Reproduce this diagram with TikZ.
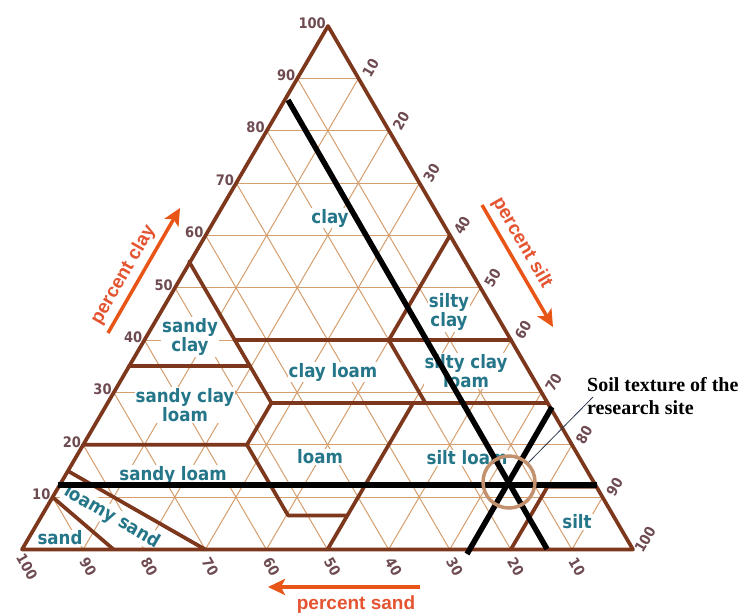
\documentclass[tikz,border=0pt]{standalone}
\usepackage{fontspec}
\usetikzlibrary{arrows.meta}
\newfontfamily\regfont{DejaVu Sans Condensed}
\newfontfamily\axfont{Liberation Sans}
\newfontfamily\annfont{Liberation Serif}
\definecolor{brd}{RGB}{125,55,28}
\definecolor{gridc}{RGB}{212,158,110}
\definecolor{regc}{RGB}{38,118,138}
\definecolor{tickc}{RGB}{110,75,80}
\definecolor{axc}{RGB}{228,84,48}
\definecolor{arrc}{RGB}{232,85,22}
\definecolor{circc}{RGB}{195,145,110}
\definecolor{leadc}{RGB}{40,55,75}
\tikzset{
 tern/.style={shift={(633,549.5)}, x={(-6.11pt,0pt)}, y={(-3.05pt,5.235pt)}},
 gridln/.style={draw=gridc, line width=1pt},
 bnd/.style={draw=brd, line width=3.7pt, line cap=round, line join=round},
 reg/.style={text=regc, font=\regfont\bfseries\fontsize{18.5}{19.5}\selectfont, fill=white, inner sep=1pt, align=center},
 tlab/.style={text=tickc, font=\regfont\bfseries\fontsize{14.5}{16}\selectfont, inner sep=0.5pt},
 axl/.style={text=axc, font=\axfont\bfseries\fontsize{19}{21}\selectfont, inner sep=0},
 axarrow/.style={draw=arrc, line width=3.5pt, -{Stealth[length=17pt,width=16pt,inset=4pt]}},
 blk/.style={draw=black, line width=5.5pt},
 ann/.style={font=\annfont\bfseries\fontsize{20}{22}\selectfont, inner sep=0},
 leader/.style={draw=leadc, line width=0.8pt}
}
\begin{document}
\begin{tikzpicture}[x=1pt,y=-1pt]
\useasboundingbox (0,0) rectangle (738,614);
\fill[white] (0,0) rectangle (738,614);

% grid
\begin{scope}[tern]
\foreach \k in {10,20,...,90} {
  \draw[gridln] (100-\k,\k) -- (0,\k);
  \draw[gridln] (\k,0) -- (\k,100-\k);
  \draw[gridln] (100-\k,0) -- (0,100-\k);
}
% tick labels
\foreach \k in {10,20,...,100} {
  \node[tlab, anchor=east, xshift=-1.5pt, yshift=3pt] (cl\k) at (100-\k,\k) {\k};
  \node[tlab, xshift=5pt, yshift=-17pt, rotate=-60] (sa\k) at (\k,0) {\k};
  \node[tlab, xshift=12pt, yshift=10pt, rotate=60] (si\k) at (0,100-\k) {\k};
}
\end{scope}

% region labels
\node[reg] (lclay) at (330,218) {clay};
\node[reg] (lsiltyclay) at (449,312) {silty\\clay};
\node[reg] (lsicl) at (466,371) {silty clay\\loam};
\node[reg] (lsandyclay) at (190,337) {sandy\\clay};
\node[reg] (lscl) at (185,405) {sandy clay\\loam};
\node[reg] (lcl) at (333,372) {clay loam};
\node[reg] (lloam) at (320,457) {loam};
\node[reg] (lsiltloam) at (467,458) {silt loam};
\node[reg] (lsandyloam) at (173,475) {sandy loam};
\node[reg, rotate=-30] (lloamysand) at (112,517) {loamy sand};
\node[reg] (lsand) at (60,538) {sand};
\node[reg] (lsilt) at (577,522) {silt};

% boundaries
\begin{scope}[tern]
\draw[bnd] (85,0) -- (90,10);
\draw[bnd] (70,0) -- (85,15);
\draw[bnd] (80,20) -- (53.2,20) -- (53.2,6.5) -- (43.5,6.5);
\draw[bnd] (50,0) -- (22,28);
\draw[bnd] (20,0) -- (8,12) -- (0,12);
\draw[bnd] (53.2,20) -- (45.2,28) -- (45.2,55);
\draw[bnd] (45.2,28) -- (0,28);
\draw[bnd] (65,35) -- (45.2,35);
\draw[bnd] (45.2,40) -- (0,40);
\draw[bnd] (20,28) -- (20,40) -- (0,60);
\draw[bnd] (100,0) -- (0,0) -- (0,100) -- cycle;
\end{scope}

% measured lines
\coordinate (h1) at (58,485);
\coordinate (h2) at (597,485);
\coordinate (d1a) at (288,100);
\coordinate (d1b) at (547,549);
\coordinate (d2a) at (467,554);
\coordinate (d2b) at (552,407);
\draw[blk] (h1) -- (h2);
\draw[blk] (d1a) -- (d1b);
\draw[blk] (d2a) -- (d2b);

\node[circle, draw=circc, line width=3.5pt, minimum size=52pt, inner sep=0] (site) at (509,482) {};

% annotation
\node[ann, anchor=base west] (ann1) at (587,391.5) {Soil texture of the};
\node[ann, anchor=base west] (ann2) at (587,414) {research site};
\coordinate (lead) at (593,397);
\draw[leader] (lead) -- (site.45);

% axis arrows and labels
\coordinate (ca1) at (108,333);
\coordinate (ca2) at (180,208);
\draw[axarrow] (ca1) -- (ca2);
\node[axl, rotate=60] (pclay) at (123.5,275) {percent clay};
\coordinate (sa1) at (482,205);
\coordinate (sa2) at (553,327);
\draw[axarrow] (sa1) -- (sa2);
\node[axl, rotate=-60] (psilt) at (522,243) {percent silt};
\coordinate (na1) at (420,587);
\coordinate (na2) at (268,587);
\draw[axarrow] (na1) -- (na2);
\node[axl] (psand) at (356,605) {percent sand};
\end{tikzpicture}
\end{document}
